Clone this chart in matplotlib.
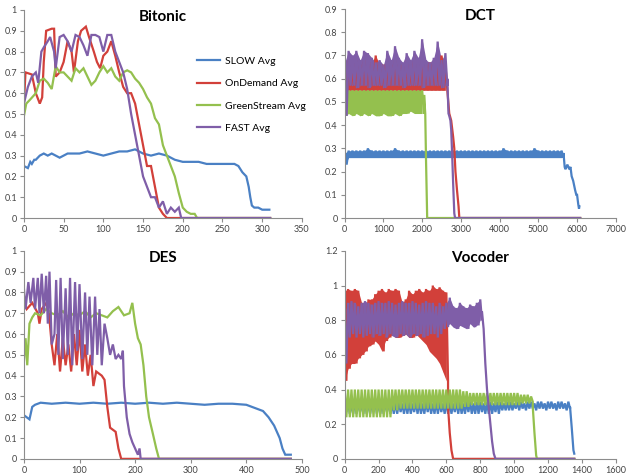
import numpy as np
import matplotlib
matplotlib.use("Agg")
import matplotlib.pyplot as plt
from matplotlib.ticker import FuncFormatter, MultipleLocator

plt.rcParams['font.family'] = ['Lato', 'DejaVu Sans']

# colori delle serie (stile Excel)
colors = {'SLOW': '#4a80c4', 'OnDemand': '#d2403a', 'GreenStream': '#94c04e', 'FAST': '#7f5ea8'}
labels = ['SLOW Avg', 'OnDemand Avg', 'GreenStream Avg', 'FAST Avg']

# ---------------- Bitonic ----------------
bit_slow_x = [0, 5, 8, 10, 13, 15, 20, 25, 30, 35, 40, 45, 50, 55, 60, 70, 80, 90, 100, 110, 120,
              130, 140, 145, 150, 160, 170, 180, 190, 200, 210, 220, 230, 240, 250, 260, 265, 270,
              275, 280, 283, 285, 287, 290, 295, 300, 305, 309]
bit_slow_y = [0.25, 0.24, 0.27, 0.26, 0.28, 0.28, 0.30, 0.31, 0.30, 0.31, 0.30, 0.29, 0.30, 0.31,
              0.31, 0.31, 0.32, 0.31, 0.30, 0.31, 0.32, 0.32, 0.33, 0.32, 0.31, 0.30, 0.31, 0.30,
              0.28, 0.27, 0.27, 0.27, 0.26, 0.26, 0.26, 0.26, 0.26, 0.25, 0.22, 0.20, 0.15, 0.10,
              0.06, 0.05, 0.05, 0.04, 0.04, 0.04]
bit_od_x = [0, 2, 10, 15, 20, 23, 25, 28, 35, 38, 40, 45, 50, 55, 60, 63, 68, 72, 78, 82, 88, 92,
            96, 100, 105, 110, 115, 120, 125, 130, 135, 140, 145, 150, 155, 160, 165, 170, 175,
            180, 185, 310]
bit_od_y = [0.55, 0.70, 0.69, 0.60, 0.55, 0.58, 0.75, 0.90, 0.91, 0.91, 0.68, 0.70, 0.75, 0.85,
            0.80, 0.70, 0.85, 0.90, 0.92, 0.87, 0.80, 0.75, 0.72, 0.78, 0.80, 0.85, 0.78, 0.70,
            0.63, 0.60, 0.60, 0.55, 0.45, 0.35, 0.25, 0.25, 0.15, 0.05, 0.02, 0.0, 0.0, 0.0]
bit_gs_x = [0, 3, 8, 15, 20, 25, 30, 35, 40, 45, 50, 55, 60, 65, 70, 75, 80, 85, 90, 95, 100, 105,
            110, 115, 120, 125, 130, 135, 140, 145, 150, 155, 160, 165, 170, 175, 180, 185, 190,
            195, 200, 205, 210, 215, 218, 310]
bit_gs_y = [0.49, 0.55, 0.57, 0.60, 0.66, 0.67, 0.65, 0.62, 0.73, 0.70, 0.70, 0.68, 0.66, 0.72,
            0.70, 0.72, 0.68, 0.64, 0.66, 0.70, 0.73, 0.70, 0.72, 0.68, 0.66, 0.70, 0.71, 0.70,
            0.67, 0.65, 0.62, 0.58, 0.55, 0.48, 0.45, 0.35, 0.30, 0.25, 0.20, 0.12, 0.05, 0.03,
            0.02, 0.02, 0.0, 0.0]
bit_fast_x = [0, 5, 10, 15, 18, 22, 25, 30, 33, 38, 40, 45, 50, 55, 60, 65, 70, 75, 80, 85, 90, 95,
              100, 105, 110, 115, 120, 125, 130, 135, 140, 145, 150, 155, 160, 165, 170, 175, 180,
              185, 190, 195, 198, 310]
bit_fast_y = [0.55, 0.63, 0.68, 0.70, 0.65, 0.80, 0.82, 0.85, 0.87, 0.80, 0.72, 0.87, 0.88, 0.85,
              0.80, 0.88, 0.87, 0.83, 0.78, 0.88, 0.88, 0.87, 0.80, 0.88, 0.88, 0.80, 0.75, 0.70,
              0.62, 0.50, 0.40, 0.30, 0.20, 0.15, 0.10, 0.10, 0.05, 0.08, 0.02, 0.05, 0.03, 0.05,
              0.0, 0.0]

# ---------------- DCT (banda: massimi / minimi ogni 100) ----------------
dct_step = 100
dct_slow_hi = [0.28, 0.29, 0.29, 0.29, 0.29, 0.29, 0.30, 0.29, 0.29, 0.29,
               0.29, 0.29, 0.29, 0.30, 0.29, 0.29, 0.29, 0.29, 0.29, 0.29,
               0.29, 0.29, 0.29, 0.29, 0.29, 0.29, 0.29, 0.29, 0.29, 0.29,
               0.29, 0.29, 0.29, 0.29, 0.29, 0.29, 0.29, 0.29, 0.29, 0.29,
               0.29, 0.30, 0.29, 0.29, 0.29, 0.29, 0.29, 0.29, 0.29, 0.30,
               0.29, 0.29, 0.29, 0.29, 0.29, 0.29, 0.29]
dct_slow_lo = [0.23, 0.26, 0.26, 0.26, 0.26, 0.26, 0.26, 0.26, 0.26, 0.26,
               0.26, 0.26, 0.26, 0.26, 0.26, 0.26, 0.26, 0.26, 0.26, 0.26,
               0.26, 0.26, 0.26, 0.26, 0.26, 0.26, 0.26, 0.26, 0.26, 0.26,
               0.26, 0.26, 0.26, 0.26, 0.26, 0.26, 0.26, 0.26, 0.26, 0.26,
               0.26, 0.26, 0.26, 0.26, 0.26, 0.26, 0.26, 0.26, 0.26, 0.26,
               0.26, 0.26, 0.26, 0.26, 0.26, 0.26, 0.26]
dct_slow_tail_x = [5650, 5680, 5700, 5750, 5800, 5830, 5860, 5900, 5950, 5980, 6000, 6030, 6050, 6060]
dct_slow_tail_y = [0.28, 0.22, 0.21, 0.23, 0.21, 0.22, 0.18, 0.16, 0.12, 0.10, 0.10, 0.06, 0.04, 0.05]

dct_od_hi = [0.65, 0.68, 0.66, 0.68, 0.66, 0.68, 0.66, 0.67, 0.70, 0.66,
             0.66, 0.68, 0.66, 0.68, 0.66, 0.66, 0.68, 0.66, 0.70, 0.66,
             0.68, 0.66, 0.67, 0.66, 0.68, 0.70, 0.66]
dct_od_lo = [0.45, 0.55, 0.55, 0.55, 0.55, 0.55, 0.55, 0.55, 0.55, 0.55,
             0.55, 0.55, 0.55, 0.55, 0.55, 0.55, 0.55, 0.55, 0.55, 0.55,
             0.55, 0.55, 0.55, 0.55, 0.55, 0.55, 0.55]
dct_od_tail_x = [2650, 2700, 2750, 2800, 2830, 2860, 2900, 2940, 2960, 3000, 6080]
dct_od_tail_y = [0.55, 0.45, 0.42, 0.35, 0.30, 0.20, 0.12, 0.05, 0.0, 0.0, 0.0]

dct_gs_hi = [0.50, 0.55, 0.55, 0.55, 0.55, 0.55, 0.55, 0.55, 0.55, 0.55,
             0.55, 0.55, 0.55, 0.55, 0.55, 0.55, 0.55, 0.55, 0.55, 0.55, 0.55]
dct_gs_lo = [0.44, 0.45, 0.44, 0.45, 0.44, 0.45, 0.44, 0.45, 0.44, 0.44,
             0.45, 0.44, 0.44, 0.45, 0.44, 0.45, 0.45, 0.46, 0.45, 0.45, 0.45]
dct_gs_tail_x = [2050, 2080, 2100, 2130, 6080]
dct_gs_tail_y = [0.53, 0.45, 0.25, 0.0, 0.0]

dct_fast_hi = [0.67, 0.72, 0.70, 0.72, 0.68, 0.72, 0.71, 0.69, 0.67, 0.68,
               0.66, 0.72, 0.68, 0.74, 0.69, 0.67, 0.71, 0.68, 0.72, 0.69,
               0.77, 0.68, 0.67, 0.69, 0.76, 0.68, 0.71]
dct_fast_lo = [0.44, 0.57, 0.57, 0.56, 0.57, 0.57, 0.56, 0.57, 0.57, 0.57,
               0.56, 0.57, 0.57, 0.57, 0.57, 0.56, 0.57, 0.57, 0.57, 0.57,
               0.56, 0.57, 0.57, 0.57, 0.57, 0.56, 0.57]
dct_fast_tail_x = [2650, 2680, 2700, 2730, 2750, 2780, 2800, 2830, 2850, 6080]
dct_fast_tail_y = [0.60, 0.45, 0.44, 0.42, 0.38, 0.25, 0.15, 0.02, 0.0, 0.0]

# ---------------- DES ----------------
des_slow_x = [0, 5, 10, 15, 20, 30, 50, 75, 100, 125, 150, 175, 200, 225, 250, 275, 300, 325, 350,
              375, 400, 410, 420, 430, 440, 450, 455, 460, 465, 470, 480]
des_slow_y = [0.21, 0.20, 0.19, 0.25, 0.26, 0.27, 0.265, 0.27, 0.265, 0.27, 0.265, 0.27, 0.265,
              0.27, 0.265, 0.27, 0.265, 0.26, 0.265, 0.265, 0.26, 0.25, 0.24, 0.23, 0.20, 0.16,
              0.13, 0.10, 0.05, 0.02, 0.02]
des_od_x = [0, 5, 15, 25, 28, 32, 40, 45, 50, 55, 60, 65, 70, 75, 80, 85, 90, 95, 100, 105, 110,
            115, 120, 125, 130, 140, 145, 150, 155, 165, 170, 175, 480]
des_od_y = [0.75, 0.72, 0.75, 0.70, 0.65, 0.72, 0.75, 0.70, 0.55, 0.45, 0.60, 0.42, 0.58, 0.45,
            0.55, 0.42, 0.60, 0.45, 0.62, 0.42, 0.55, 0.40, 0.50, 0.35, 0.42, 0.40, 0.38, 0.25,
            0.15, 0.13, 0.05, 0.0, 0.0]
des_gs_x = [0, 3, 6, 10, 15, 20, 30, 40, 50, 60, 70, 80, 90, 100, 110, 120, 130, 140, 150, 160,
            170, 180, 190, 195, 200, 205, 210, 215, 220, 225, 232, 238, 243, 480]
des_gs_y = [0.47, 0.58, 0.45, 0.65, 0.68, 0.70, 0.69, 0.72, 0.70, 0.69, 0.71, 0.68, 0.70, 0.69,
            0.71, 0.68, 0.70, 0.69, 0.68, 0.71, 0.73, 0.69, 0.70, 0.75, 0.65, 0.58, 0.55, 0.45,
            0.30, 0.20, 0.12, 0.05, 0.0, 0.0]
des_fast_x = [0, 3, 8, 12, 17, 20, 25, 28, 32, 36, 40, 43, 46, 50, 55, 58, 62, 66, 70, 75, 79,
              83, 87, 92, 96, 100, 105, 110, 114, 118, 123, 128, 132, 136, 140, 145, 150, 155,
              160, 165, 170, 175, 178, 180, 185, 190, 195, 200, 205, 208, 210, 480]
des_fast_y = [0.82, 0.72, 0.85, 0.75, 0.87, 0.72, 0.87, 0.70, 0.89, 0.70, 0.88, 0.65, 0.90, 0.55,
              0.60, 0.86, 0.50, 0.87, 0.48, 0.82, 0.50, 0.87, 0.45, 0.85, 0.52, 0.84, 0.48, 0.80,
              0.50, 0.78, 0.45, 0.78, 0.50, 0.72, 0.45, 0.65, 0.58, 0.50, 0.55, 0.48, 0.50, 0.48,
              0.52, 0.35, 0.20, 0.12, 0.08, 0.05, 0.02, 0.05, 0.0, 0.0]

# ---------------- Vocoder (banda: massimi / minimi ogni 20) ----------------
voc_step = 20
voc_slow_hi = [0.31, 0.33, 0.32, 0.33, 0.33, 0.32, 0.33, 0.33, 0.32, 0.33,
               0.33, 0.32, 0.33, 0.33, 0.32, 0.33, 0.33, 0.32, 0.33, 0.33,
               0.32, 0.33, 0.33, 0.32, 0.33, 0.33, 0.32, 0.33, 0.33, 0.32,
               0.33, 0.33, 0.32, 0.33, 0.33, 0.32, 0.33, 0.33, 0.32, 0.33,
               0.33, 0.32, 0.33, 0.33, 0.32, 0.33, 0.33, 0.32, 0.33, 0.33,
               0.32, 0.33, 0.33, 0.32, 0.33, 0.33, 0.32, 0.33, 0.33, 0.32,
               0.33, 0.33, 0.32, 0.33, 0.33, 0.32, 0.33]
voc_slow_lo = [0.27, 0.26, 0.26, 0.26, 0.27, 0.26, 0.26, 0.26, 0.27, 0.26,
               0.26, 0.26, 0.27, 0.26, 0.26, 0.26, 0.27, 0.26, 0.26, 0.26,
               0.27, 0.26, 0.26, 0.26, 0.27, 0.26, 0.26, 0.26, 0.27, 0.26,
               0.26, 0.26, 0.27, 0.26, 0.26, 0.26, 0.27, 0.26, 0.26, 0.26,
               0.27, 0.26, 0.26, 0.26, 0.27, 0.26, 0.28, 0.28, 0.28, 0.28,
               0.29, 0.28, 0.29, 0.28, 0.29, 0.29, 0.28, 0.29, 0.29, 0.28,
               0.29, 0.29, 0.28, 0.29, 0.29, 0.28, 0.29]
voc_slow_tail_x = [1330, 1340, 1350, 1355]
voc_slow_tail_y = [0.30, 0.18, 0.05, 0.03]

voc_od_hi = [0.97, 0.98, 0.97, 0.98, 0.97, 0.90, 0.88, 0.92, 0.92, 0.95,
             0.97, 0.98, 0.96, 0.98, 0.97, 0.98, 0.97, 0.90, 0.92, 0.97,
             0.95, 0.97, 0.98, 0.96, 0.98, 0.97, 1.00, 0.98, 0.99, 0.97, 0.96]
voc_od_lo = [0.45, 0.52, 0.55, 0.55, 0.58, 0.60, 0.62, 0.65, 0.66, 0.68,
             0.66, 0.62, 0.68, 0.70, 0.72, 0.70, 0.70, 0.71, 0.72, 0.70,
             0.70, 0.72, 0.70, 0.68, 0.66, 0.62, 0.60, 0.58, 0.55, 0.50, 0.45]
voc_od_tail_x = [610, 620, 630, 640, 1355]
voc_od_tail_y = [0.30, 0.15, 0.05, 0.0, 0.0]

voc_gs_hi = [0.40, 0.40, 0.40, 0.40, 0.40, 0.40, 0.40, 0.40, 0.40, 0.40,
             0.40, 0.40, 0.40, 0.40, 0.40, 0.40, 0.40, 0.40, 0.40, 0.40,
             0.40, 0.40, 0.40, 0.40, 0.40, 0.40, 0.40, 0.40, 0.40, 0.40,
             0.40, 0.40, 0.40, 0.40, 0.40, 0.39, 0.39, 0.38, 0.38, 0.38,
             0.38, 0.38, 0.38, 0.38, 0.38, 0.38, 0.38, 0.38, 0.38, 0.38,
             0.38, 0.38, 0.37, 0.37, 0.37, 0.36]
voc_gs_lo = [0.24, 0.24, 0.24, 0.24, 0.24, 0.24, 0.24, 0.24, 0.24, 0.24,
             0.24, 0.24, 0.24, 0.24, 0.28, 0.28, 0.29, 0.29, 0.29, 0.29,
             0.29, 0.29, 0.29, 0.29, 0.29, 0.29, 0.29, 0.29, 0.29, 0.29,
             0.29, 0.29, 0.29, 0.29, 0.29, 0.30, 0.30, 0.31, 0.31, 0.31,
             0.31, 0.31, 0.31, 0.31, 0.31, 0.31, 0.31, 0.31, 0.31, 0.31,
             0.31, 0.31, 0.32, 0.32, 0.32, 0.33]
voc_gs_tail_x = [1110, 1120, 1130, 1135, 1355]
voc_gs_tail_y = [0.30, 0.15, 0.02, 0.0, 0.0]

voc_fast_hi = [0.85, 0.90, 0.91, 0.90, 0.88, 0.90, 0.91, 0.90, 0.89, 0.90,
               0.91, 0.90, 0.90, 0.91, 0.90, 0.89, 0.90, 0.91, 0.90, 0.90,
               0.91, 0.90, 0.89, 0.90, 0.91, 0.90, 0.90, 0.88, 0.90, 0.88,
               0.90, 0.93, 0.88, 0.87, 0.90, 0.88, 0.87, 0.89, 0.88, 0.90, 0.92]
voc_fast_lo = [0.55, 0.70, 0.72, 0.70, 0.72, 0.70, 0.71, 0.72, 0.70, 0.72,
               0.71, 0.72, 0.70, 0.72, 0.71, 0.70, 0.72, 0.71, 0.72, 0.70,
               0.72, 0.71, 0.72, 0.70, 0.71, 0.72, 0.72, 0.70, 0.72, 0.75,
               0.76, 0.78, 0.76, 0.75, 0.77, 0.76, 0.75, 0.78, 0.76, 0.77, 0.80]
voc_fast_tail_x = [810, 820, 830, 840, 850, 860, 870, 880, 890, 1355]
voc_fast_tail_y = [0.85, 0.75, 0.55, 0.40, 0.30, 0.20, 0.10, 0.03, 0.0, 0.0]


def band(hi, lo, step, tail_x, tail_y, fill):
    # alterna massimi e minimi, poi aggiunge la discesa finale
    n = len(hi)
    x = np.empty(2 * n)
    y = np.empty(2 * n)
    x[0::2] = np.arange(n) * step
    x[1::2] = np.arange(n) * step + step / 2
    y[0::2] = hi
    y[1::2] = lo
    env = (np.arange(n) * step, np.asarray(lo), np.asarray(hi)) if fill else None
    return np.concatenate([x, tail_x]), np.concatenate([y, tail_y]), env


def simple(x, y):
    return x, y, None


panels = [
    ('Bitonic', [simple(bit_slow_x, bit_slow_y), simple(bit_od_x, bit_od_y),
                 simple(bit_gs_x, bit_gs_y), simple(bit_fast_x, bit_fast_y)],
     (0, 350, 50), (0, 1, 0.1)),
    ('DCT', [band(dct_slow_hi, dct_slow_lo, dct_step, dct_slow_tail_x, dct_slow_tail_y, True),
             band(dct_od_hi, dct_od_lo, dct_step, dct_od_tail_x, dct_od_tail_y, True),
             band(dct_gs_hi, dct_gs_lo, dct_step, dct_gs_tail_x, dct_gs_tail_y, True),
             band(dct_fast_hi, dct_fast_lo, dct_step, dct_fast_tail_x, dct_fast_tail_y, True)],
     (0, 7000, 1000), (0, 0.9, 0.1)),
    ('DES', [simple(des_slow_x, des_slow_y), simple(des_od_x, des_od_y),
             simple(des_gs_x, des_gs_y), simple(des_fast_x, des_fast_y)],
     (0, 500, 100), (0, 1, 0.1)),
    ('Vocoder', [band(voc_slow_hi, voc_slow_lo, voc_step, voc_slow_tail_x, voc_slow_tail_y, False),
                 band(voc_od_hi, voc_od_lo, voc_step, voc_od_tail_x, voc_od_tail_y, True),
                 band(voc_gs_hi, voc_gs_lo, voc_step, voc_gs_tail_x, voc_gs_tail_y, False),
                 band(voc_fast_hi, voc_fast_lo, voc_step, voc_fast_tail_x, voc_fast_tail_y, True)],
     (0, 1600, 200), (0, 1.2, 0.2)),
]

# posizioni degli assi [left, bottom, width, height]
boxes = [[0.038, 0.542, 0.442, 0.437],
         [0.548, 0.542, 0.431, 0.439],
         [0.038, 0.036, 0.442, 0.437],
         [0.548, 0.036, 0.431, 0.437]]

fig = plt.figure(figsize=(6.29, 4.76), dpi=100)
fmt = FuncFormatter(lambda v, p: '%g' % round(v, 2))
series_colors = [colors['SLOW'], colors['OnDemand'], colors['GreenStream'], colors['FAST']]

for (title, series, (x0, x1, xs), (y0, y1, ys)), box in zip(panels, boxes):
    ax = fig.add_axes(box)
    for (sx, sy, env), c, lab in zip(series, series_colors, labels):
        if env is not None:
            ax.fill_between(env[0], env[1], env[2], color=c, lw=0)
        ax.plot(sx, sy, color=c, lw=1.6, label=lab, solid_joinstyle='miter')
    ax.set_xlim(x0, x1)
    ax.set_ylim(y0, y1)
    ax.xaxis.set_major_locator(MultipleLocator(xs))
    ax.yaxis.set_major_locator(MultipleLocator(ys))
    ax.xaxis.set_major_formatter(fmt)
    ax.yaxis.set_major_formatter(fmt)
    for s in ['top', 'right']:
        ax.spines[s].set_visible(False)
    for s in ['left', 'bottom']:
        ax.spines[s].set_color('#8c8c8c')
        ax.spines[s].set_linewidth(0.8)
    ax.tick_params(direction='out', length=3, width=0.8, color='#8c8c8c',
                   labelsize=6.5, labelcolor='#444444', pad=2)
    ax.text(0.5, 0.965, title, transform=ax.transAxes, ha='center', va='center',
            fontsize=11, fontweight='bold', color='black')
    if title == 'Bitonic':
        ax.legend(loc='upper left', bbox_to_anchor=(0.59, 0.82), frameon=False,
                  fontsize=7.5, handlelength=2.2, labelspacing=1.25, handletextpad=0.5)

fig.savefig('out.png', dpi=100)
